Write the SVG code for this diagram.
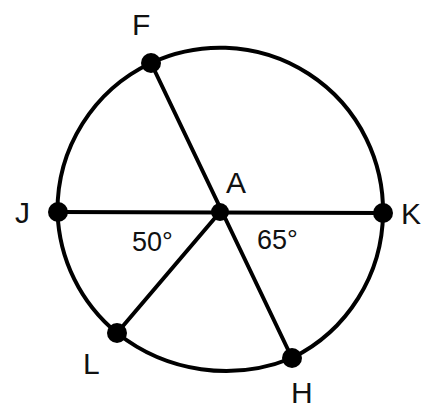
<svg xmlns="http://www.w3.org/2000/svg" width="438" height="409" viewBox="0 0 438 409">
<style>
.ln{stroke:#000;stroke-width:4;fill:none;stroke-linecap:round}
.dot{fill:#000}
.lbl{font-family:"Liberation Sans",Arial,sans-serif;font-size:30px;fill:#111}
.deg{font-family:"Liberation Sans",Arial,sans-serif;font-size:27px;fill:#111}
</style>
<rect width="438" height="409" fill="#fff"/>
<g id="circle">
<path class="ln" d="M151 63 A163 163 0 0 1 383 213 A163 163 0 0 1 292 358 A175 175 0 0 1 117 333 A163 163 0 0 1 57.5 212 A163 163 0 0 1 151 63 Z"/>
</g>
<g id="connectors">
<line class="ln" x1="57.5" y1="212" x2="383" y2="213"/>
<line class="ln" x1="151" y1="63" x2="292" y2="358"/>
<line class="ln" x1="220" y1="212" x2="117" y2="333"/>
</g>
<g id="node-F"><circle class="dot" cx="151" cy="63" r="10"/><text class="lbl" x="132" y="35">F</text></g>
<g id="node-J"><circle class="dot" cx="58" cy="212" r="10"/><text class="lbl" x="15" y="223">J</text></g>
<g id="node-A"><circle class="dot" cx="220" cy="212" r="9"/><text class="lbl" x="226" y="193">A</text></g>
<g id="node-K"><circle class="dot" cx="383" cy="213" r="10"/><text class="lbl" x="401" y="224">K</text></g>
<g id="node-L"><circle class="dot" cx="117" cy="333" r="10"/><text class="lbl" x="83" y="374">L</text></g>
<g id="node-H"><circle class="dot" cx="292" cy="358" r="10"/><text class="lbl" x="291" y="403">H</text></g>
<g id="angles">
<text class="deg" x="132" y="251">50°</text>
<text class="deg" x="257" y="249">65°</text>
</g>
</svg>
